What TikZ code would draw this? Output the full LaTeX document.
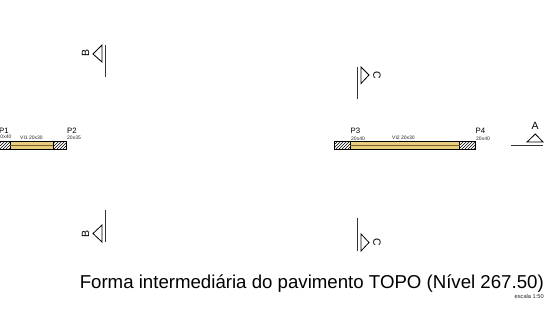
\documentclass[tikz,border=0pt]{standalone}
\usepackage{fontspec}
\setmainfont{Liberation Sans}
\usetikzlibrary{patterns}
\definecolor{beamfill}{RGB}{232,205,125}
\definecolor{beamline}{RGB}{120,95,40}
\tikzset{
  hatchbox/.style={draw=black,line width=.7pt,pattern=north east lines,pattern color=black},
  beambox/.style={draw=black,line width=.7pt,fill=beamfill},
  midline/.style={draw=beamline,line width=1pt},
  cutline/.style={draw=black!80,line width=.9pt},
  cuttri/.style={draw=black,line width=.8pt,line join=miter},
  cutlabel/.style={font=\fontsize{10.5}{11}\selectfont,inner sep=0pt},
  pillar/.style={font=\fontsize{7.8}{8}\selectfont,inner sep=0pt,anchor=base west},
  small/.style={font=\fontsize{5}{5}\selectfont,inner sep=0pt,anchor=base west,text=black!85},
}
\begin{document}
\begin{tikzpicture}[x=1pt,y=-1pt]
\useasboundingbox (0,0) rectangle (551,320);
\fill[white] (0,0) rectangle (551,320);
% left beam
\draw[hatchbox] (-2,141.5) rectangle (10,149);
\draw[hatchbox] (53,141.5) rectangle (66.5,149);
\draw[beambox] (10,141.5) rectangle (53,149);
\draw[midline] (10,145.2) -- (53,145.2);
\node[pillar] (p1) at (-1,133.5) {P1};
\node[small] (p1s) at (-2.5,139) {20x40};
\node[pillar] (p2) at (67,133.5) {P2};
\node[small] (p2s) at (67,140) {20x35};
\node[small] (v1) at (20,139.5) {VI1 20x30};
% right beam
\draw[hatchbox] (334.5,141.5) rectangle (350,149);
\draw[hatchbox] (459.5,141.5) rectangle (475,149);
\draw[beambox] (350,141.5) rectangle (459.5,149);
\draw[midline] (350,145.2) -- (459.5,145.2);
\node[pillar] (p3) at (350.5,134) {P3};
\node[small] (p3s) at (351,140.5) {20x40};
\node[pillar] (p4) at (475.5,134) {P4};
\node[small] (p4s) at (476,140.5) {20x40};
\node[small] (v2) at (392,139.5) {VI2 20x30};
% section B top
\draw[cutline] (105,45) -- (105,77.5);
\draw[cuttri] (102,45) -- (93,54) -- (102,62) -- cycle;
\node[cutlabel,rotate=90] (bt) at (85.5,53.5) {B};
% section B bottom
\draw[cutline] (105,210) -- (105,242.5);
\draw[cuttri] (102,225) -- (93,233.5) -- (102,242) -- cycle;
\node[cutlabel,rotate=90] (bb) at (85.5,233.5) {B};
% section C top
\draw[cutline] (357,67) -- (357,99.5);
\draw[cuttri] (361,67) -- (369,75) -- (361,83.5) -- cycle;
\node[cutlabel,rotate=-90] (ct) at (377,75) {C};
% section C bottom
\draw[cutline] (357,218) -- (357,251);
\draw[cuttri] (361,234) -- (369,242.5) -- (361,251) -- cycle;
\node[cutlabel,rotate=-90] (cb) at (377,242.5) {C};
% section A
\draw[cutline] (511,145.8) -- (542.5,145.8);
\draw[cuttri] (527,142) -- (535.3,134) -- (543,142) -- cycle;
\node[cutlabel] (a) at (535,126) {A};
% title
\node[font=\fontsize{18.65}{20}\selectfont,inner sep=0pt,anchor=base east] (title) at (544,288) {Forma intermediária do pavimento TOPO (Nível 267.50)};
\node[font=\fontsize{5.7}{6}\selectfont,inner sep=0pt,anchor=base east,text=black!85] (esc) at (544,298) {escala 1:50};
\end{tikzpicture}
\end{document}
